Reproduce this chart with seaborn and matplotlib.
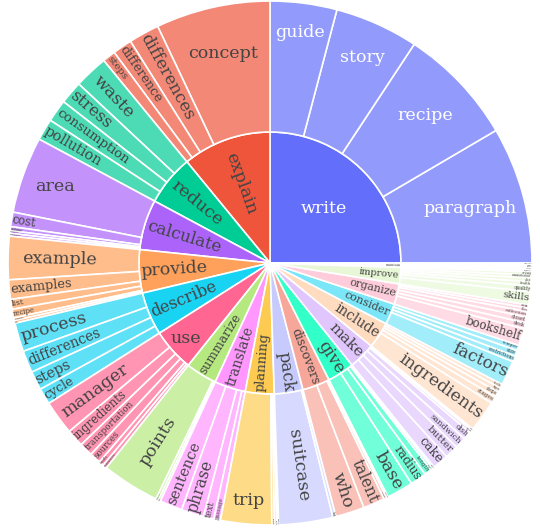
import colorsys
import numpy as np
import matplotlib
matplotlib.use("Agg")
import matplotlib.pyplot as plt
import seaborn as sns
from matplotlib.patches import Wedge
from matplotlib.font_manager import FontProperties
from matplotlib.textpath import TextToPath

# ---------------- data ----------------
verbs = ["write", "explain", "reduce", "calculate", "provide", "describe", "use",
         "summarize", "translate", "planning", "pack", "discovers", "give", "make",
         "include", "consider", "organize", "improve", "maintain"]

leaf_parents = (
    ["write"] * 4 + ["explain"] * 4 + ["reduce"] * 4 + ["calculate"] * 5 +
    ["provide"] * 6 + ["describe"] * 4 + ["use"] * 6 + ["summarize"] * 3 +
    ["translate"] * 4 + ["planning"] * 4 + ["pack"] * 2 + ["discovers"] * 4 +
    ["give"] * 5 + ["make"] * 6 + ["include"] * 5 + ["consider"] * 4 +
    ["organize"] * 6 + ["improve"] * 6 + ["maintain"] * 5
)
leaf_labels = [
    "paragraph", "recipe", "story", "guide",
    "concept", "differences", "difference", "steps",
    "waste", "stress", "consumption", "pollution",
    "area", "cost", "volume", "average", "perimeter",
    "example", "examples", "list", "recipe", "summary", "tips",
    "process", "differences", "steps", "cycle",
    "manager", "ingredients", "transportation", "sources", "tools", "resources",
    "points", "article", "text",
    "sentence", "phrase", "text", "passage",
    "trip", "event", "party", "wedding",
    "suitcase", "bag",
    "who", "talent", "secret", "passion",
    "base", "radius", "length", "height", "width",
    "cake", "butter", "sandwich", "dish", "salad", "soup",
    "ingredients", "stages", "steps", "tips", "tools",
    "factors", "restrictions", "size", "temper",
    "bookshelf", "desk", "closet", "collection", "files", "room",
    "skills", "quality", "health", "diet", "communication", "writing",
    "balance", "routine", "health", "garden", "relationship",
]
leaf_values = [
    30.4, 26.2, 18.6, 14.8,
    25.4, 6.8, 4.3, 2.9,
    7.5, 5.1, 5.0, 4.8,
    17.0, 3.2, 0.9, 0.6, 0.6,
    9.6, 4.3, 2.2, 1.9, 0.6, 0.6,
    6.4, 4.9, 4.2, 3.6,
    7.6, 3.9, 3.0, 2.5, 1.1, 0.9,
    12.8, 0.6, 0.5,
    5.0, 5.0, 2.3, 1.5,
    11.3, 0.6, 0.5, 0.4,
    12.0, 0.7,
    6.4, 4.8, 0.6, 0.4,
    5.9, 3.6, 1.6, 0.5, 0.4,
    3.6, 3.0, 2.5, 1.8, 0.6, 0.4,
    7.0, 1.6, 1.2, 1.0, 0.9,
    5.5, 1.3, 1.3, 1.2,
    3.8, 1.3, 1.3, 1.2, 0.8, 0.7,
    2.9, 1.3, 0.9, 0.8, 0.7, 0.7,
    0.5, 0.4, 0.4, 0.3, 0.3,
]

base_colors = ["#636EFA", "#EF553B", "#00CC96", "#AB63FA", "#FFA15A",
               "#19D3F3", "#FF6692", "#B6E880", "#FF97FF", "#FECB52"]

# ---------------- style ----------------
sns.set_theme(style="white")
plt.rcParams["font.family"] = ["DejaVu Serif"]
palette = sns.color_palette(base_colors)


def lighten(rgb, amount=0.2):
    h, l, s = colorsys.rgb_to_hls(*rgb)
    return colorsys.hls_to_rgb(h, min(1.0, l + amount), s)


ext_colors = list(palette) + [lighten(c) for c in palette]


def brightness(rgb):
    r, g, b = [c * 255 for c in rgb]
    return (r * 299 + g * 587 + b * 114) / 1000.0


F = 17.5  # base font size in px
DPI = 100
R1, R2 = 131.0, 262.0
TEXTPAD = 3
prop = FontProperties(family="DejaVu Serif", size=F)
t2p = TextToPath()


def measure(s):
    w, _, _ = t2p.get_text_width_height_descent(s, prop, ismath=False)
    return w, 1.12 * F


def max_half_size(a, half, r, ring):
    q = a + 1.0 / (2 * np.tan(half))
    return r * min(1.0 / (np.sqrt(q * q + 0.5) + q),
                   ring / (np.sqrt(a * a + ring / 2) + a))


def layout_text(label, r0, r1, th0, th1):
    half = np.radians(th1 - th0) / 2
    mid = (th0 + th1) / 2
    w, h = measure(label)
    ring = 1 - r0 / r1
    rin = max(0.0, min(1.0 / (1 + 1.0 / np.sin(half)), ring / 2))
    diam = np.hypot(w, h)
    s_h = rin * r1 * 2 / diam
    if s_h >= 1:
        return 1.0, (1 - rin) * r1, 0.0, mid
    cands = [(s_h, (1 - rin) * r1, 0.0)]
    rp = max(0.0, r1 - 2 * TEXTPAD)
    rot_rad = ((mid + 90) % 180) - 90
    rot_tan = (mid % 180) - 90
    a = w / h
    s = max_half_size(a, half, rp, ring)
    cands.append((s * 2 / h, (np.cos(s / rp) - a * s / rp) * r1, rot_rad))
    a = h / w
    s = max_half_size(a, half, rp, ring)
    cands.append((s * 2 / w, (np.cos(s / rp) - a * s / rp) * r1, rot_tan))
    best = max(cands, key=lambda c: c[0])
    return min(1.0, best[0]), best[1], best[2], mid


# ---------------- figure ----------------
fig = plt.figure(figsize=(5.40, 5.29), dpi=DPI)
ax = fig.add_axes([0, 0, 1, 1])
ax.set_xlim(-270, 270)
ax.set_ylim(-266, 263)
ax.set_aspect("equal")
ax.axis("off")

parent_values = [sum(v for p, v in zip(leaf_parents, leaf_values) if p == verb)
                 for verb in verbs]
total = sum(parent_values)
LW = 1.2

start = 0.0
for i, verb in enumerate(verbs):
    span = parent_values[i] / total * 360.0
    col = ext_colors[i % len(ext_colors)]
    txt_col = "white" if brightness(col) < 128 else "#444444"
    ax.add_patch(Wedge((0, 0), R1, start, start + span, facecolor=col,
                       edgecolor="white", linewidth=LW))
    sc, rc, rot, mid = layout_text(verb, 0.0, R1, start, start + span)
    ax.text(rc * np.cos(np.radians(mid)), rc * np.sin(np.radians(mid)), verb,
            rotation=rot, rotation_mode="anchor", ha="center", va="center",
            fontsize=max(0.3, F * sc * 72 / DPI), color=txt_col)
    leaf_col = tuple(0.7 * c + 0.3 for c in col)
    cstart = start
    for lab, par, val in zip(leaf_labels, leaf_parents, leaf_values):
        if par != verb:
            continue
        cspan = val / total * 360.0
        ax.add_patch(Wedge((0, 0), R2, cstart, cstart + cspan, width=R2 - R1,
                           facecolor=leaf_col, edgecolor="white", linewidth=LW))
        sc, rc, rot, m = layout_text(lab, R1, R2, cstart, cstart + cspan)
        ax.text(rc * np.cos(np.radians(m)), rc * np.sin(np.radians(m)), lab,
                rotation=rot, rotation_mode="anchor", ha="center", va="center",
                fontsize=max(0.3, F * sc * 72 / DPI), color=txt_col)
        cstart += cspan
    start += span

fig.savefig("out.png", dpi=DPI, facecolor="white")
